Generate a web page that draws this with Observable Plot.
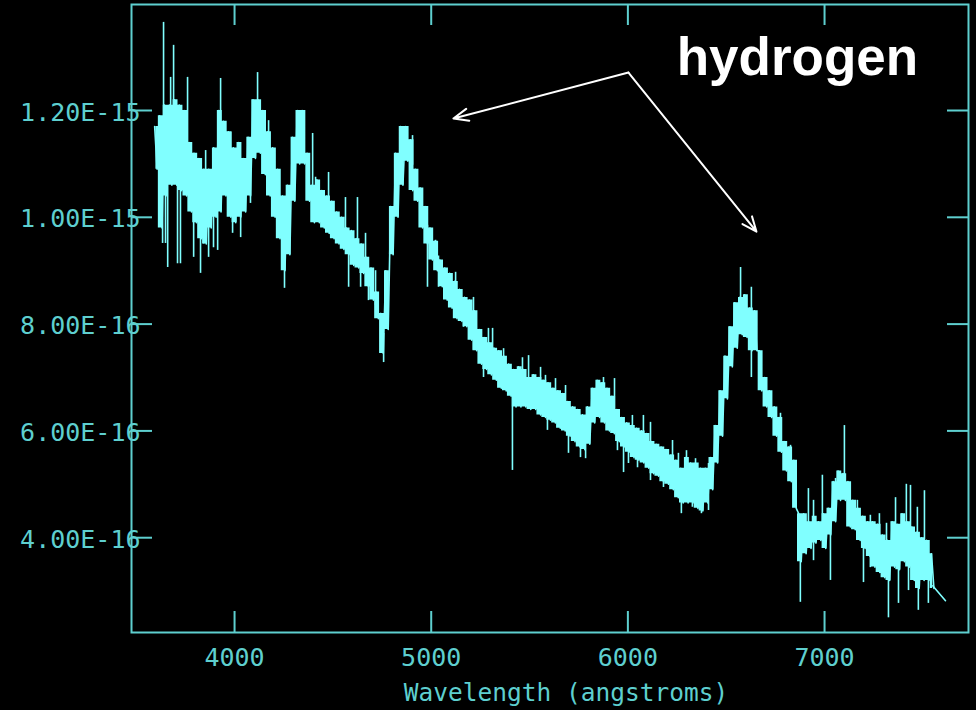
<!DOCTYPE html>
<html>
<head>
<meta charset="utf-8">
<script src="https://cdn.jsdelivr.net/npm/d3@7"></script>
<script src="https://cdn.jsdelivr.net/npm/@observablehq/plot@0.6"></script>
<style>
  html, body { margin: 0; padding: 0; background: #000; }
  #chart { width: 976px; height: 710px; overflow: hidden; }
</style>
</head>
<body>
<div id="chart"></div>
<script>
// Wavelength grid (angstroms) and band envelope of the spectrum (flux in units of 1e-16)
const wavelength = [
  3600,3625,3650,3675,3700,3725,3750,3775,
  3800,3825,3850,3875,3900,3925,3950,3975,
  4000,4025,4050,4075,4100,4125,4150,4175,
  4200,4225,4250,4275,4300,4325,4350,4375,
  4400,4425,4450,4475,4500,4525,4550,4575,
  4600,4625,4650,4675,4700,4725,4750,4775,
  4800,4825,4850,4875,4900,4925,4950,4975,
  5000,5025,5050,5075,5100,5125,5150,5175,
  5200,5225,5250,5275,5300,5325,5350,5375,
  5400,5425,5450,5475,5500,5525,5550,5575,
  5600,5625,5650,5675,5700,5725,5750,5775,
  5800,5825,5850,5875,5900,5925,5950,5975,
  6000,6025,6050,6075,6100,6125,6150,6175,
  6200,6225,6250,6275,6300,6325,6350,6375,
  6400,6425,6450,6475,6500,6525,6550,6575,
  6600,6625,6650,6675,6700,6725,6750,6775,
  6800,6825,6850,6875,6900,6925,6950,6975,
  7000,7025,7050,7075,7100,7125,7150,7175,
  7200,7225,7250,7275,7300,7325,7350,7375,
  7400,7425,7450,7475,7500,7525,7550
];
const fluxHigh = [
  11.7,11.9,12.1,12.1,12.2,12.1,12.0,11.4,
  11.2,11.1,10.9,10.9,11.3,12.0,11.8,11.6,
  11.3,11.4,11.1,11.5,12.2,12.2,12.0,11.6,
  11.3,10.9,10.4,10.6,11.5,12.0,12.0,11.2,
  10.6,10.7,10.5,10.4,10.3,10.1,10.0,9.8,
  9.75,9.6,9.5,9.25,9.05,8.6,8.2,9.0,
  10.2,11.2,11.7,11.7,11.45,10.9,10.55,10.2,
  9.8,9.55,9.2,9.05,8.95,8.8,8.65,8.5,
  8.45,8.25,7.9,7.75,7.65,7.55,7.5,7.4,
  7.25,7.15,7.2,7.15,7.0,7.05,7.0,6.95,
  6.9,6.8,6.75,6.7,6.55,6.45,6.4,6.3,
  6.45,6.8,6.95,6.9,6.8,6.65,6.4,6.25,
  6.15,6.1,6.05,6.0,5.95,5.8,5.75,5.7,
  5.65,5.55,5.45,5.3,5.5,5.4,5.4,5.3,
  5.3,5.5,6.1,6.75,7.4,7.95,8.4,8.5,
  8.55,8.3,8.25,7.5,7.0,6.75,6.45,6.25,
  5.8,5.7,5.45,4.45,4.45,4.3,4.4,4.3,
  4.45,4.55,5.05,5.25,5.2,5.05,4.7,4.55,
  4.4,4.3,4.3,4.25,4.05,3.95,4.3,4.25,
  4.45,4.3,4.2,4.1,4.0,3.95,3.7
];
const fluxLow = [
  10.9,9.8,10.4,10.6,10.6,10.5,10.4,10.1,
  9.9,9.6,9.5,9.8,10.0,10.1,10.4,10.0,
  9.9,10.0,10.1,10.4,11.1,11.2,10.8,10.4,
  10.0,9.6,9.0,9.3,10.3,11.0,11.0,10.3,
  9.9,9.9,9.8,9.7,9.6,9.5,9.4,9.3,
  9.1,9.05,8.95,8.7,8.45,8.1,7.45,7.9,
  9.3,10.0,10.6,11.05,10.5,10.3,9.8,9.5,
  9.2,9.0,8.7,8.45,8.3,8.1,8.05,7.95,
  7.7,7.5,7.25,7.15,7.05,6.95,6.8,6.75,
  6.65,6.45,6.45,6.45,6.4,6.4,6.3,6.25,
  6.2,6.15,6.05,6.0,5.9,5.8,5.7,5.65,
  5.75,6.15,6.25,6.15,6.0,5.95,5.8,5.7,
  5.6,5.5,5.45,5.4,5.3,5.2,5.15,5.05,
  5.0,4.9,4.75,4.65,4.65,4.65,4.55,4.5,
  4.65,4.9,5.4,5.9,6.6,7.2,7.55,7.8,
  7.75,7.5,7.5,6.75,6.45,6.25,5.9,5.6,
  5.25,5.05,4.55,3.55,3.7,3.8,3.9,3.95,
  3.8,4.05,4.3,4.7,4.7,4.2,4.15,3.95,
  3.8,3.65,3.45,3.35,3.25,3.2,3.45,3.4,
  3.55,3.45,3.2,3.05,3.2,3.2,3.05
];
// Noise spikes: wavelength and extreme flux reached
const spikeWavelength = [
  3639,3690,3675,3761,3929,4117,3853,3980,4173,4397,4412,4478,4564,4625,4666,4717,4905,5022,5124,5215,
  5291,5312,5368,5464,5495,5556,5581,5632,5683,5876,5932,6023,6079,6115,6227,6257,6298,6344,6410,
  6573,6628,6776,6827,6918,6944,6989,7056,7101,7167,7233,7279,7315,7361,7416,7437,7472,7508,
  3634,3649,3660,3710,3725,3792,3827,3843,3868,3893,3914,3990,4031,4081,4254,4580,4641,4681,4758,
  4981,5037,5164,5215,5266,5337,5413,5591,5698,5759,5785,5947,5978,6003,6049,6115,6181,6272,6328,
  6374,6410,6628,6877,6944,7030,7198,7233,7284,7325,7376,7427,7477,7528
];
const spikeFlux = [
  13.65,13.22,12.62,12.62,12.6,12.71,11.25,11.59,11.81,11.57,10.75,10.84,10.37,10.37,9.7,9.0,11.53,9.57,8.97,8.5,
  7.92,7.92,7.54,7.37,7.41,7.19,7.04,6.98,6.85,7.0,6.98,6.29,6.29,6.16,5.82,5.58,5.63,5.48,5.39,
  9.06,8.69,6.33,5.73,4.92,4.7,5.17,5.11,6.1,4.7,4.42,4.45,4.27,4.75,5.0,4.98,4.57,4.88,
  9.51,9.51,9.06,9.13,9.13,9.25,8.95,9.5,9.25,9.43,9.38,9.7,9.62,10.26,8.67,8.69,8.69,8.44,7.28,
  8.69,8.69,7.94,7.51,7.0,6.94,5.26,6.01,5.58,5.5,5.48,5.63,5.22,5.39,5.31,5.07,4.94,4.45,4.57,
  4.45,4.51,7.0,2.79,3.57,3.2,3.16,3.44,3.33,2.5,2.77,3.01,2.64,2.77
];
// Tail of the spectrum
const tailWavelength = [7550, 7615];
const tailFlux = [3.1, 2.82];

// Axis ticks
const xTicks = [4000, 5000, 6000, 7000];
const yTicks = [4, 6, 8, 10, 12];
const xTitle = "Wavelength (angstroms)";

// Annotations
const labelText = ["hydrogen"];
const labelWavelength = [6862];
const labelFlux = [12.66];
const arrowFromWavelength = [6003, 6003];
const arrowFromFlux = [12.71, 12.71];
const arrowToWavelength = [5113, 6654];
const arrowToFlux = [11.85, 9.73];

// ---- build tables ----
const band = wavelength.map((w, i) => ({w, hi: fluxHigh[i], lo: fluxLow[i]}));
// the sampled signal swings between the band's upper and lower values
const zigzag = wavelength.flatMap((w, i) => [{w: w - 6.25, f: fluxHigh[i]}, {w: w + 6.25, f: fluxLow[i]}]);
const nearestMid = (w) => {
  let best = 0;
  for (let i = 1; i < wavelength.length; i++) if (Math.abs(wavelength[i] - w) < Math.abs(wavelength[best] - w)) best = i;
  return (fluxHigh[best] + fluxLow[best]) / 2;
};
const spikes = spikeWavelength.map((w, i) => ({w, f: spikeFlux[i], mid: nearestMid(w)}));
const tail = tailWavelength.map((w, i) => ({w, f: tailFlux[i]}));
const labels = labelText.map((t, i) => ({t, w: labelWavelength[i], f: labelFlux[i]}));
const arrows = arrowFromWavelength.map((w, i) => ({x1: w, y1: arrowFromFlux[i], x2: arrowToWavelength[i], y2: arrowToFlux[i]}));

const axisColor = "#5ecfcf";
const specColor = "#80ffff";
const W = 976, H = 710, mL = 131, mR = 8, mT = 4, mB = 78;
const innerW = W - mL - mR, innerH = H - mT - mB;
const tickLen = 21;

const chart = Plot.plot({
  width: W,
  height: H,
  marginLeft: mL,
  marginRight: mR,
  marginTop: mT,
  marginBottom: mB,
  x: {domain: [3476, 7732]},
  y: {domain: [2.225, 13.985]},
  style: {background: "#000", color: axisColor, fontFamily: "DejaVu Sans Mono, monospace", fontSize: "25px"},
  marks: [
    // spectrum
    Plot.areaY(band, {x: "w", y1: "lo", y2: "hi", curve: "step", fill: specColor}),
    Plot.line(zigzag, {x: "w", y: "f", stroke: specColor, strokeWidth: 1.6}),
    Plot.ruleX(spikes, {x: "w", y1: "mid", y2: "f", stroke: specColor, strokeWidth: 1.6}),
    Plot.line(tail, {x: "w", y: "f", stroke: specColor, strokeWidth: 1.6}),
    // frame and inward ticks
    Plot.frame({stroke: axisColor, strokeWidth: 2}),
    Plot.ruleX(xTicks, {x: d => d, insetTop: innerH - tickLen, stroke: axisColor, strokeWidth: 2}),
    Plot.ruleX(xTicks, {x: d => d, insetBottom: innerH - tickLen, stroke: axisColor, strokeWidth: 2}),
    Plot.ruleY(yTicks, {y: d => d, insetRight: innerW - tickLen, stroke: axisColor, strokeWidth: 2}),
    Plot.ruleY(yTicks, {y: d => d, insetLeft: innerW - tickLen, stroke: axisColor, strokeWidth: 2}),
    // tick labels
    Plot.axisX(xTicks, {anchor: "bottom", tickSize: 0, tickPadding: 16, label: null, fill: axisColor,
      tickFormat: d => String(d)}),
    Plot.axisY(yTicks, {anchor: "left", tickSize: 0, tickPadding: -9, label: null, fill: axisColor, dy: 2,
      tickFormat: d => (d * 1e-16).toExponential(2).toUpperCase()}),
    Plot.text([xTitle], {text: d => d, frameAnchor: "bottom", dx: 16, dy: 68, lineAnchor: "bottom",
      fill: axisColor, fontSize: 24.5}),
    // annotations
    Plot.arrow(arrows, {x1: "x1", y1: "y1", x2: "x2", y2: "y2", stroke: "white", strokeWidth: 2, headLength: 12, headAngle: 45}),
    Plot.text(labels, {x: "w", y: "f", text: "t", fill: "white", fontSize: 53, fontWeight: "bold",
      fontFamily: "Liberation Sans, Arial, sans-serif", lineAnchor: "bottom", textAnchor: "middle"})
  ]
});
document.getElementById("chart").appendChild(chart);
</script>
</body>
</html>
